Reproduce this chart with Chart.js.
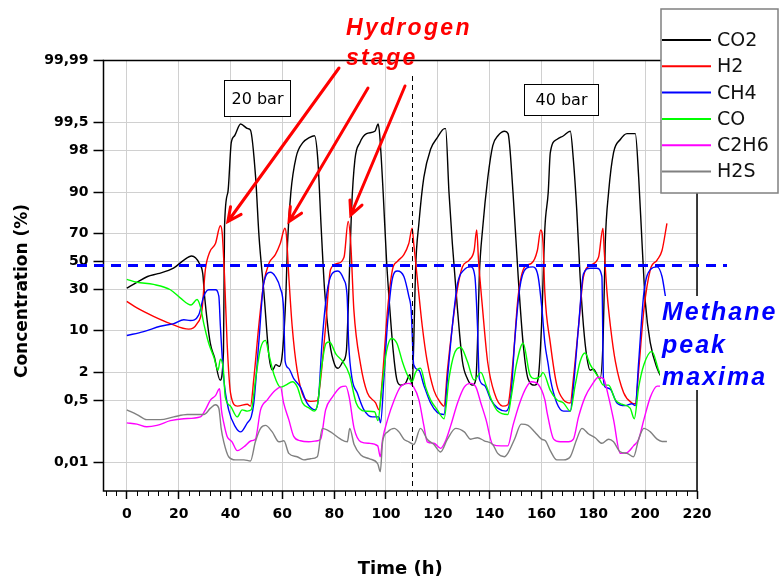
<!DOCTYPE html>
<html>
<head>
<meta charset="utf-8">
<script src="https://cdn.jsdelivr.net/npm/chart.js@4/dist/chart.umd.min.js"></script>
<style>
  html, body { margin: 0; padding: 0; background: #fff; }
  #wrap { width: 784px; height: 585px; position: relative; }
</style>
</head>
<body>
<div id="wrap"><canvas id="chart" width="784" height="585"></canvas></div>
<script>
// === DATA (time in h, concentration in %) ===
const yTicks = [0.01, 0.5, 2, 10, 30, 50, 70, 90, 98, 99.5, 99.99];
const xTicks = [0, 20, 40, 60, 80, 100, 120, 140, 160, 180, 200, 220];
const seriesNames = ["CO2", "H2", "CH4", "CO", "C2H6", "H2S"];
const seriesColors = ["#000000", "#ff0000", "#0000ff", "#00ff00", "#ff00ff", "#808080"];

const co2 = [[0,31],[4,35],[8,39],[12,41],[18,45],[22,51],[25,54],[28,48.5],[29.3,41],[30,26],[32.2,6.5],[33.8,3.8],[36,1.4],[37.3,4.8],[37.7,74],[39,90],[40.3,98.6],[41.6,99],[43.9,99.45],[46.7,99.3],[47.7,99.25],[49.7,94],[51,68],[52.9,28],[54.9,3.8],[56.2,2.2],[57.5,2.8],[58.8,2.6],[60.1,4.8],[61.4,28],[62,63],[63.3,90],[65.3,97.3],[67.9,98.6],[70.4,98.9],[72.4,99],[73.7,97],[75,73],[76.3,30],[78.3,6.5],[80.2,2.8],[81.5,2.4],[83.4,3.2],[84.7,4.8],[85.4,18.5],[86,48.5],[86.7,83],[88,97],[89.9,98.6],[92.5,99.1],[95.7,99.2],[97,99.45],[97.6,99],[98.9,90],[100.2,51],[101.5,18.5],[102.8,4.8],[104.1,1.5],[105.6,1.1],[107.5,1.2],[109.2,1.8],[110.1,1.1],[110.7,6.5],[111.4,44],[112.7,76],[114.6,94],[117.2,98.1],[119.8,98.9],[122.6,99.3],[123,99.3],[124.3,90],[125.6,63],[127.6,18.5],[129.5,3.2],[131.4,1.5],[133.4,1.1],[134.7,1.5],[135.3,6.5],[136,39],[137.3,73],[139.3,94],[141.2,98.4],[143.2,99],[145.8,99.2],[147.1,99.1],[149,90],[151,39],[152.9,6.5],[154.8,1.5],[157.4,1.1],[158.7,1.5],[160,11.5],[161.3,73],[162.6,90],[163.4,97.8],[165.9,98.8],[168.5,99],[171.1,99.2],[172.3,97],[173.6,83],[174.9,39],[176.2,11.5],[177.5,3.8],[178.8,2.2],[180,2.3],[182.6,1.5],[183.8,8],[184.6,63],[185.9,90],[187.8,97.8],[190.4,98.8],[193,99.1],[196.2,99.1],[197.5,94],[198.8,63],[200.1,22],[202,6.5],[204.6,2.4],[207.2,1.3]];

const h2 = [[0,23],[3.9,19.5],[10.3,15.5],[16.8,12.5],[23.9,10.5],[27.1,12.5],[29,18.5],[30.3,44],[32,57],[34.2,63],[36.1,74.5],[36.8,70],[37.7,39],[38.7,6.5],[40,0.75],[42.6,0.37],[46.5,0.41],[47.7,0.37],[49,1.5],[50.9,11.5],[52.8,34],[54.8,48.5],[57.3,55],[59.2,63],[61,73],[61.6,68],[62.5,39],[63.8,11.5],[65.7,2.2],[68.3,0.6],[70.9,0.48],[73.5,0.5],[74.8,1.5],[76.7,11.5],[78.6,44],[81.2,48.5],[83.8,53],[85.4,77],[86.4,63],[87.6,18.5],[90.2,2.8],[92.8,0.75],[96,0.44],[97.3,0.3],[98.6,1.5],[100.6,18.5],[102.5,44],[104.4,50],[106.9,55],[108.8,63],[110.1,73],[110.7,63],[112,39],[114,11.5],[115.9,3.2],[118.5,0.85],[121.1,0.44],[122.4,0.37],[123.7,2.2],[125.6,11.5],[127.6,31],[129.5,46],[132.1,51],[134,58],[135,72],[135.7,51],[137.3,18.5],[139.2,3.2],[141.8,0.75],[145,0.37],[147,0.4],[149,3.2],[151,26],[153.5,46],[156.1,48.5],[158.4,58],[159.7,72],[160.6,63],[161.3,28],[163.4,6.5],[165.9,1.1],[168.5,0.52],[171.1,0.44],[172.3,1.5],[174.3,11.5],[176.2,39],[178.8,47],[182,53],[183.7,73],[184.2,58],[185.3,28],[186.6,11.5],[188.5,3.2],[191.7,0.75],[194.9,0.44],[196.2,0.42],[197.5,2.2],[199.5,18.5],[202,44],[204.6,51],[206.5,58],[208.4,76]];

const ch4 = [[0,8.5],[6.5,9.7],[12.9,11.5],[18.1,12.5],[22,14],[24.5,13.7],[27.7,16],[29.7,26],[31.6,30],[34.2,30],[35.5,26],[36.1,11.5],[37.4,1.5],[39.3,0.3],[41.9,0.11],[43.9,0.08],[46.5,0.14],[48,0.2],[49,0.44],[50.9,6.5],[52.8,34],[55.4,42],[57.3,39],[59.2,31],[60.5,18.5],[61.1,3.2],[62.4,2.4],[64.4,1.5],[67,1],[69.5,0.44],[72.7,0.3],[74,0.6],[75.3,6.5],[77.2,28],[79.2,41],[81.4,43],[83.7,37],[85,26],[85.6,6.5],[86.9,1.5],[88.9,0.75],[91.5,0.3],[94.7,0.2],[97.3,0.2],[97.9,0.14],[99.2,1.5],[100.5,11.5],[102.4,37],[104.4,43],[106.9,39],[108.8,26],[109.7,18.5],[110.7,2.8],[112.7,2.2],[114.6,1.1],[117.2,0.44],[119.8,0.26],[122.4,0.23],[123.7,1.5],[125.6,11.5],[127.6,34],[130.2,44],[132.7,46],[134.3,39],[135.3,11.5],[136,1.5],[137.9,1.1],[140.5,0.52],[143.1,0.33],[146.3,0.28],[148.3,0.75],[149.6,6.5],[151.6,31],[154.2,45],[156.7,46],[158.7,39],[160.2,18.5],[161.3,6.5],[162.6,2.8],[163.4,1.5],[165.9,0.44],[168.5,0.28],[171.1,0.28],[172.3,1],[174.3,11.5],[176.2,41],[178.8,45],[181.3,45],[183.3,39],[183.9,1.5],[184.6,1],[186.6,0.9],[189.1,0.44],[192.3,0.38],[194.9,0.42],[196.2,0.38],[197.5,3.2],[199.5,28],[202,44],[204.6,46],[206.5,39],[207.8,26]];

const co = [[0,37],[3.9,35],[10.3,33.5],[16.8,30],[20.6,25],[24.8,21],[27.1,24],[28.4,20],[29.7,12.5],[31.6,6.5],[33.6,3.8],[35.2,2.2],[36.1,3.5],[37.2,2.4],[38,0.6],[40,0.37],[42.6,0.2],[44.5,0.3],[46.5,0.28],[48,0.3],[49.7,1.5],[51.6,5.4],[53.5,7.2],[54.8,4.3],[56.8,1.8],[59.3,1],[61.3,1.1],[63.9,1.3],[65.8,1],[67.8,0.44],[70.4,0.33],[72.3,0.28],[73.7,0.44],[75,2.2],[76.9,6.5],[78.2,6.8],[80.7,4.3],[83.3,3.2],[85.9,1.8],[88.5,0.44],[91.7,0.28],[95.6,0.27],[96.9,0.16],[98.2,0.75],[100.2,4.8],[102.1,7.7],[104.2,6.5],[106.3,3.2],[108.2,1.8],[110.1,1.3],[111.4,2],[113.3,2.4],[115.3,1],[117.2,0.52],[119.8,0.3],[122.4,0.18],[124.3,1.5],[126.3,4.3],[128.8,5.6],[131.4,3.2],[134,1.4],[136.6,2],[138.6,1.1],[141.2,0.44],[143.1,0.28],[147,0.23],[148.3,0.6],[150.3,2.8],[152.9,6.5],[155.5,1.8],[157.4,1.5],[159.7,1.7],[160.5,2],[163.4,0.85],[165.9,0.52],[168.5,0.44],[171.1,0.28],[173,1.1],[174.9,3.2],[176.8,4.5],[178.8,2.8],[182,1.6],[183.9,1.1],[185.9,1.1],[188.5,0.52],[191,0.41],[194.2,0.33],[195.8,0.18],[197.5,1],[199.5,2.8],[202.6,4.8],[205.2,2.2],[208.2,1]];

const c2h6 = [[0,0.14],[3.9,0.13],[7.7,0.11],[11.6,0.12],[16.8,0.16],[22,0.18],[28.4,0.2],[30.3,0.3],[32.3,0.52],[34.2,0.65],[35.8,0.92],[36.5,0.3],[37.4,0.14],[38.7,0.06],[40.6,0.042],[42.6,0.023],[45.2,0.03],[48,0.045],[49.6,0.05],[51.6,0.3],[54.2,0.52],[57.3,0.85],[59.3,1],[60.5,0.44],[62.5,0.17],[64.4,0.06],[67,0.045],[70.2,0.042],[73.5,0.045],[74.8,0.05],[76.7,0.3],[79.3,0.6],[82.5,1],[84.5,1.05],[85.8,0.6],[87.7,0.1],[90.3,0.042],[93.5,0.038],[96.8,0.032],[97.8,0.015],[98.7,0.05],[100.6,0.17],[103.2,0.52],[105.5,1],[108.8,1.2],[110.7,1],[112.7,0.52],[114.6,0.12],[115.9,0.042],[118.5,0.038],[121.1,0.027],[123,0.045],[125,0.12],[127.6,0.44],[130.2,1],[132.7,1.2],[134.7,1],[136.6,0.44],[138.6,0.17],[141.2,0.035],[144.4,0.032],[147,0.032],[149,0.12],[151.6,0.44],[154.2,1],[156.1,1.3],[158.7,1.15],[161.3,0.52],[162.2,0.25],[164.7,0.05],[167.2,0.042],[170.4,0.042],[172.3,0.05],[174.3,0.2],[176.8,0.6],[179.4,1.1],[182,1.6],[183.9,1.5],[185.9,0.6],[187.8,0.17],[190.4,0.019],[193,0.02],[195.5,0.032],[197.5,0.05],[199.5,0.17],[202,0.6],[204.6,1.05],[206.5,1.05],[208.4,0.9]];

const h2s = [[0,0.3],[3.9,0.23],[7.7,0.17],[12.9,0.17],[18.1,0.2],[23.3,0.23],[29.7,0.23],[32.3,0.33],[34.2,0.4],[35.5,0.33],[36.4,0.1],[37.4,0.042],[39.3,0.015],[41.9,0.012],[45.2,0.012],[47.7,0.011],[49.6,0.042],[51.6,0.1],[53.5,0.12],[56.1,0.08],[58.7,0.042],[60.6,0.045],[62.5,0.019],[65.7,0.015],[68.3,0.012],[70.9,0.013],[73.5,0.015],[75.4,0.1],[78.6,0.08],[82.5,0.05],[85.1,0.042],[86,0.1],[87.7,0.035],[90.3,0.017],[93.5,0.013],[96.8,0.009],[97.8,0.005],[98.7,0.042],[100.6,0.08],[103.2,0.1],[105,0.08],[106.9,0.05],[108.8,0.042],[110.7,0.035],[113.3,0.1],[115.9,0.05],[118.5,0.035],[121.1,0.021],[123.7,0.05],[126.9,0.1],[130.2,0.08],[132.7,0.05],[135.3,0.055],[137.9,0.045],[141.2,0.035],[143.1,0.019],[145.7,0.015],[147,0.019],[149.6,0.05],[152.2,0.13],[154.8,0.12],[157.4,0.08],[160,0.05],[161.5,0.045],[163.4,0.023],[165.9,0.012],[168.5,0.012],[171.1,0.015],[173.6,0.05],[175.6,0.1],[178.2,0.07],[180.7,0.055],[183.3,0.038],[185.9,0.05],[187.8,0.042],[190.4,0.021],[193,0.019],[195.5,0.015],[197.5,0.05],[199.5,0.1],[202,0.08],[204.6,0.05],[206.5,0.043],[208.4,0.043]];

// annotations
const methaneLevel = 47;       // % – dashed "peak maxima" line
const switchHour = 110;        // 20 bar -> 40 bar
const h2PeakTargets = [[39, 77], [62.6, 77], [86.4, 80.5]]; // arrow tips (h, %)
const pressureLabels = ["20 bar", "40 bar"];
const hydrogenText = ["Hydrogen", "stage"];
const methaneText = ["Methane", "peak", "maxima"];
// =================

const FONT = "'DejaVu Sans', 'Liberation Sans', sans-serif";
const ARIAL = "'Liberation Sans', Arial, sans-serif";

// inverse normal CDF (Acklam)
function probit(p) {
  const a = [-39.69683028665376, 220.9460984245205, -275.9285104469687, 138.3577518672690, -30.66479806614716, 2.506628277459239];
  const b = [-54.47609879822406, 161.5858368580409, -155.6989798598866, 66.80131188771972, -13.28068155288572];
  const c = [-0.007784894002430293, -0.3223964580411365, -2.400758277161838, -2.549732539343734, 4.374664141464968, 2.938163982698783];
  const d = [0.007784695709041462, 0.3224671290700398, 2.445134137142996, 3.754408661907416];
  const lo = 0.02425;
  if (p < lo) {
    const q = Math.sqrt(-2 * Math.log(p));
    return (((((c[0]*q+c[1])*q+c[2])*q+c[3])*q+c[4])*q+c[5]) / ((((d[0]*q+d[1])*q+d[2])*q+d[3])*q+1);
  }
  if (p > 1 - lo) {
    const q = Math.sqrt(-2 * Math.log(1 - p));
    return -(((((c[0]*q+c[1])*q+c[2])*q+c[3])*q+c[4])*q+c[5]) / ((((d[0]*q+d[1])*q+d[2])*q+d[3])*q+1);
  }
  const q = p - 0.5, r = q * q;
  return (((((a[0]*r+a[1])*r+a[2])*r+a[3])*r+a[4])*r+a[5])*q / (((((b[0]*r+b[1])*r+b[2])*r+b[3])*r+b[4])*r+1);
}

function normCdf(z) {
  const x = Math.abs(z) / Math.SQRT2;
  const t = 1 / (1 + 0.3275911 * x);
  const e = 1 - (((((1.061405429*t - 1.453152027)*t) + 1.421413741)*t - 0.284496736)*t + 0.254829592) * t * Math.exp(-x * x);
  return z >= 0 ? (1 + e) / 2 : (1 - e) / 2;
}

// probability (probit) axis, values in %
class ProbitScale extends Chart.Scale {
  determineDataLimits() {
    this.min = this.options.min;
    this.max = this.options.max;
  }
  buildTicks() {
    return yTicks.map(v => ({ value: v }));
  }
  configure() {
    super.configure();
    this._zLo = probit(this.min / 100);
    this._zHi = probit(this.max / 100);
  }
  getLabelForValue(v) { return String(v).replace(".", ","); }
  getPixelForValue(v) {
    return this.getPixelForDecimal((probit(v / 100) - this._zLo) / (this._zHi - this._zLo));
  }
  getValueForPixel(px) {
    return 100 * normCdf(this._zLo + this.getDecimalForPixel(px) * (this._zHi - this._zLo));
  }
}
ProbitScale.id = "probit";
ProbitScale.defaults = {};
Chart.register(ProbitScale);

const toPts = arr => arr.map(([t, v]) => ({ x: t, y: v }));
const allSeries = [co2, h2, ch4, co, c2h6, h2s];

function arrow(ctx, x0, y0, x1, y1) {
  const ang = Math.atan2(y1 - y0, x1 - x0), len = 15, spread = 0.45;
  ctx.beginPath();
  ctx.moveTo(x0, y0); ctx.lineTo(x1, y1);
  ctx.moveTo(x1 - len * Math.cos(ang - spread), y1 - len * Math.sin(ang - spread));
  ctx.lineTo(x1, y1);
  ctx.lineTo(x1 - len * Math.cos(ang + spread), y1 - len * Math.sin(ang + spread));
  ctx.stroke();
}

function boxText(ctx, text, l, t, r, b) {
  ctx.fillStyle = "#fff";
  ctx.fillRect(l, t, r - l, b - t);
  ctx.strokeStyle = "#000"; ctx.lineWidth = 1;
  ctx.strokeRect(l + 0.5, t + 0.5, r - l - 1, b - t - 1);
  ctx.fillStyle = "#000";
  ctx.font = "16px " + FONT;
  ctx.textAlign = "center"; ctx.textBaseline = "middle";
  ctx.fillText(text, (l + r) / 2, (t + b) / 2 + 1);
}

const overlay = {
  id: "overlay",
  afterDraw(chart) {
    const { ctx, chartArea: a, scales: { x, y } } = chart;
    ctx.save();

    // minor ticks on time axis
    ctx.strokeStyle = "#000"; ctx.lineWidth = 1;
    ctx.beginPath();
    for (let t = -8; t <= 220; t += 4) {
      if (t % 20 === 0) continue;
      const px = Math.round(x.getPixelForValue(t)) + 0.5;
      ctx.moveTo(px, a.bottom); ctx.lineTo(px, a.bottom + 5);
    }
    ctx.stroke();

    // frame
    ctx.lineWidth = 1.5;
    ctx.strokeRect(a.left, a.top, a.right - a.left, a.bottom - a.top);

    // pressure switch line
    const sx = Math.round(x.getPixelForValue(switchHour)) + 0.5;
    ctx.setLineDash([5, 4]); ctx.lineWidth = 1;
    ctx.beginPath(); ctx.moveTo(sx, 76); ctx.lineTo(sx, a.bottom); ctx.stroke();

    // methane maxima line
    const my = y.getPixelForValue(methaneLevel);
    ctx.strokeStyle = "#0000ff"; ctx.lineWidth = 3; ctx.setLineDash([10, 7]);
    ctx.beginPath(); ctx.moveTo(77, my); ctx.lineTo(727, my); ctx.stroke();
    ctx.setLineDash([]);

    // pressure boxes
    boxText(ctx, pressureLabels[0], 224, 80, 291, 117);
    boxText(ctx, pressureLabels[1], 524, 84, 599, 116);

    // legend
    ctx.fillStyle = "#fff";
    ctx.fillRect(661, 9, 117, 184);
    ctx.strokeStyle = "#808080"; ctx.lineWidth = 1.5;
    ctx.strokeRect(661, 9, 117, 184);
    ctx.font = "19px " + FONT;
    ctx.textAlign = "left"; ctx.textBaseline = "middle";
    chart.data.datasets.forEach((ds, i) => {
      const ly = 40 + i * 26.3;
      ctx.strokeStyle = ds.borderColor; ctx.lineWidth = 2;
      ctx.beginPath(); ctx.moveTo(662, ly); ctx.lineTo(711, ly); ctx.stroke();
      ctx.fillStyle = "#111";
      ctx.fillText(ds.label, 717, ly + 1);
    });

    // hydrogen stage text + arrows
    ctx.fillStyle = "#ff0000";
    ctx.font = "italic bold 23px " + ARIAL;
    ctx.letterSpacing = "2.3px";
    ctx.textBaseline = "alphabetic";
    ctx.fillText(hydrogenText[0], 346, 35);
    ctx.fillText(hydrogenText[1], 346, 65);
    const tails = [[339, 68], [368, 88], [405, 86]];
    ctx.strokeStyle = "#ff0000"; ctx.lineWidth = 3; ctx.lineCap = "round";
    h2PeakTargets.forEach(([t, v], i) => {
      arrow(ctx, tails[i][0], tails[i][1], x.getPixelForValue(t), y.getPixelForValue(v));
    });

    // methane peak maxima
    ctx.fillStyle = "#fff";
    ctx.fillRect(660, 296, 124, 94);
    ctx.fillStyle = "#0000ff";
    ctx.font = "italic bold 25px " + ARIAL;
    ctx.letterSpacing = "2px";
    methaneText.forEach((s, i) => ctx.fillText(s, 662, 320 + i * 32.5));
    ctx.letterSpacing = "0px";

    // y axis title
    ctx.fillStyle = "#000";
    ctx.font = "bold 17px " + FONT;
    ctx.translate(23, 291);
    ctx.rotate(-Math.PI / 2);
    ctx.textAlign = "center"; ctx.textBaseline = "middle";
    ctx.fillText("Concentration (%)", 0, 0);
    ctx.restore();
  }
};

new Chart(document.getElementById("chart"), {
  type: "line",
  data: {
    datasets: allSeries.map((s, i) => ({
      label: seriesNames[i],
      data: toPts(s),
      borderColor: seriesColors[i],
      backgroundColor: seriesColors[i],
      borderWidth: 1.4,
      pointRadius: 0,
      cubicInterpolationMode: "monotone",
      order: allSeries.length - i
    }))
  },
  options: {
    responsive: false,
    animation: false,
    devicePixelRatio: 1,
    layout: { padding: { left: 0, top: 60.5, right: 87, bottom: 0 } },
    plugins: { legend: { display: false }, tooltip: { enabled: false } },
    scales: {
      x: {
        type: "linear",
        min: -9, max: 220,
        afterBuildTicks: s => { s.ticks = xTicks.map(v => ({ value: v })); },
        afterFit: s => { s.height = 94; },
        grid: { color: "#d0d0d0", tickColor: "#000", tickLength: 8, tickWidth: 1.5 },
        border: { display: false },
        ticks: { color: "#000", padding: 7, maxRotation: 0, font: { family: FONT, size: 14, weight: "bold" } },
        title: { display: true, text: "Time (h)", color: "#000", padding: { top: 0, bottom: 5 }, font: { family: FONT, size: 18, weight: "bold" } }
      },
      y: {
        type: "probit",
        min: 0.00107, max: 99.99,
        afterFit: s => { s.width = 103.5; },
        grid: { color: "#d0d0d0", tickColor: "#000", tickLength: 10, tickWidth: 1.5 },
        border: { display: false },
        ticks: {
          color: "#000", padding: 5,
          font: { family: FONT, size: 14, weight: "bold" },
          callback: v => String(v).replace(".", ",")
        }
      }
    }
  },
  plugins: [overlay]
});
</script>
</body>
</html>
